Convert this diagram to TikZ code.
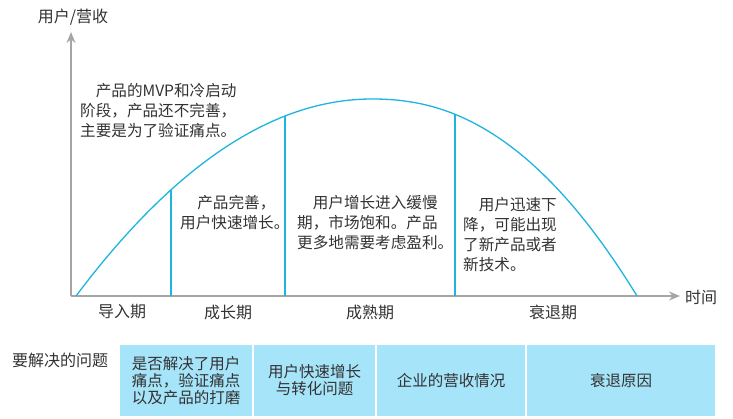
\documentclass[tikz,border=0pt]{standalone}
\usepackage{fontspec}
\setmainfont{Noto Sans CJK SC}
\usetikzlibrary{arrows.meta}
\definecolor{curvecol}{RGB}{30,180,222}
\definecolor{axisgray}{RGB}{165,165,165}
\definecolor{cellblue}{RGB}{166,228,249}
\definecolor{txt}{RGB}{50,50,50}
\begin{document}
\begin{tikzpicture}[x=1pt,y=-1pt,
  axisline/.style={draw=axisgray,line width=1.6pt,-{Stealth[length=11pt,width=9pt]}},
  curveline/.style={draw=curvecol,line width=1.3pt},
  divline/.style={draw=curvecol,line width=1.3pt},
  lbl/.style={text=txt,font=\fontsize{16}{18}\selectfont,inner sep=0pt},
  desc/.style={text=txt,font=\fontsize{15.6}{20}\selectfont,inner sep=0pt,align=left,anchor=west},
  cell/.style={fill=cellblue,draw=white,line width=1.5pt,text=txt,
    font=\fontsize{15.5}{17}\selectfont,align=center,minimum height=73pt,inner sep=0pt}
]
\useasboundingbox (0,0) rectangle (733,418);

% axes
\coordinate (O) at (71,296);
\coordinate (ytip) at (71,32);
\coordinate (xtip) at (680,296);
\draw[axisline] (O) -- (ytip);
\draw[axisline] (O) -- (xtip);
\node[lbl] (ylab) at (73,17) {用户/营收};
\node[lbl] (xlab) at (701,297) {时间};

% curve
\coordinate (c1) at (171,189.8);
\coordinate (c2) at (285,116);
\coordinate (c3) at (455,114.3);
\draw[curveline,line join=round]
  plot[domain=76:372,samples=80,smooth] (\x,{99+197*((372-\x)/296)^2})
  -- plot[domain=372.5:637,samples=80,smooth] (\x,{99+197*((\x-372)/265)^2.2});

% dividers
\coordinate (b1) at (171,296);
\coordinate (b2) at (285,296);
\coordinate (b3) at (455,296);
\draw[divline] (b1) -- (c1);
\draw[divline] (b2) -- (c2);
\draw[divline] (b3) -- (c3);

% descriptions
\node[desc] (d1) at (80,111) {\hspace*{1em}产品的MVP和冷启动\\阶段，产品还不完善，\\主要是为了验证痛点。};
\node[desc] (d2) at (180,213) {\hspace*{1.1em}产品完善，\\用户快速增长。};
\node[desc] (d3) at (297,223) {\hspace*{1em}用户增长进入缓慢\\期，市场饱和。产品\\更多地需要考虑盈利。};
\node[desc] (d4) at (463,235) {\hspace*{1em}用户迅速下\\降，可能出现\\了新产品或者\\新技术。};

% phase labels
\node[lbl] (p1) at (122,312) {导入期};
\node[lbl] (p2) at (228,312) {成长期};
\node[lbl] (p3) at (370,312) {成熟期};
\node[lbl] (p4) at (553,312) {衰退期};

% table
\node[lbl,anchor=west] (q) at (12,360) {要解决的问题};
\node[cell,minimum width=134pt] (t1) at (186,380.5) {是否解决了用户\\痛点，验证痛点\\以及产品的打磨};
\node[cell,minimum width=123pt] (t2) at (314.5,380.5) {用户快速增长\\与转化问题};
\node[cell,minimum width=150pt] (t3) at (451,380.5) {企业的营收情况};
\node[cell,minimum width=190pt] (t4) at (621,380.5) {衰退原因};
\end{tikzpicture}
\end{document}
